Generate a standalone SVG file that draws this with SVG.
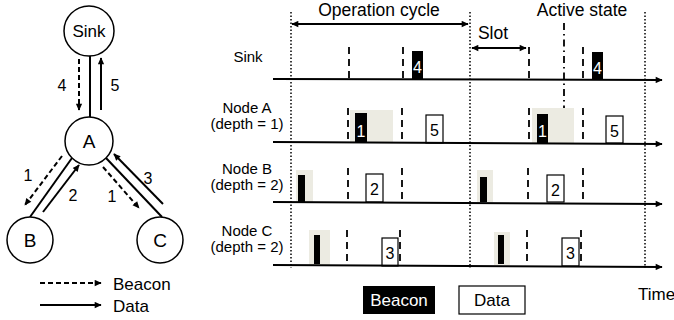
<svg xmlns="http://www.w3.org/2000/svg" width="674" height="320" viewBox="0 0 674 320">
<style>
text{font-family:"Liberation Sans",Arial,sans-serif;fill:#000}
.nd{fill:#fff;stroke:#000;stroke-width:1.5}
.ln{stroke:#000;stroke-width:2;fill:none}
.ds{stroke:#000;stroke-width:2;fill:none;stroke-dasharray:5,3}
.tl{stroke:#000;stroke-width:2;fill:none}
.dot{stroke:#000;stroke-width:1.5;stroke-dasharray:1.5,2;fill:none}
.sb{stroke:#000;stroke-width:1.8;stroke-dasharray:7,5;fill:none}
.bk{fill:#000}
.wb{fill:#fff;stroke:#000;stroke-width:1.2}
.sh{fill:#ecebe2}
.lab{font-size:15px}
.num{font-size:16px}
.wt{fill:#fff;font-size:16px}
</style>
<defs>
<marker id="ah" viewBox="0 0 10 10" refX="9" refY="5" markerWidth="4.5" markerHeight="4" orient="auto-start-reverse" markerUnits="strokeWidth"><path d="M0,0.5 L10,5 L0,9.5 z" fill="#000"/></marker>
<marker id="ah2" viewBox="0 0 10 10" refX="9" refY="5" markerWidth="8" markerHeight="7" orient="auto-start-reverse" markerUnits="userSpaceOnUse"><path d="M0,0.5 L10,5 L0,9.5 z" fill="#000"/></marker>
</defs>
<g id="connectors">
<line class="ln" x1="90" y1="56" x2="90" y2="117"/>
<line class="ln" x1="101" y1="110" x2="101" y2="58" marker-end="url(#ah2)"/>
<line class="ds" x1="79" y1="59" x2="79" y2="110" marker-end="url(#ah2)"/>
<line class="ln" x1="72" y1="158" x2="30" y2="217"/>
<line class="ln" x1="43" y1="212" x2="79" y2="165" marker-end="url(#ah2)"/>
<line class="ds" x1="62" y1="156" x2="25" y2="205" marker-end="url(#ah2)"/>
<line class="ln" x1="106" y1="158" x2="162" y2="217"/>
<line class="ln" x1="163" y1="204" x2="114" y2="154" marker-end="url(#ah2)"/>
<line class="ds" x1="103" y1="167" x2="139" y2="208" marker-end="url(#ah2)"/>
<line class="ds" x1="40" y1="283" x2="101" y2="283" marker-end="url(#ah2)"/>
<line class="ln" x1="40" y1="305" x2="101" y2="305" marker-end="url(#ah2)"/>
</g>
<g id="node-sink"><circle class="nd" cx="89" cy="31" r="25"/><text x="89" y="37" font-size="17" text-anchor="middle">Sink</text></g>
<g id="node-a"><circle class="nd" cx="89" cy="141" r="24"/><text x="89" y="148" font-size="19" text-anchor="middle">A</text></g>
<g id="node-b"><circle class="nd" cx="30" cy="240" r="23"/><text x="30" y="247" font-size="19" text-anchor="middle">B</text></g>
<g id="node-c"><circle class="nd" cx="160" cy="240" r="23"/><text x="160" y="247" font-size="19" text-anchor="middle">C</text></g>
<g id="edge-labels" class="num">
<text x="62" y="91" text-anchor="middle">4</text>
<text x="115" y="91" text-anchor="middle">5</text>
<text x="28" y="181" text-anchor="middle">1</text>
<text x="73" y="201" text-anchor="middle">2</text>
<text x="148" y="184" text-anchor="middle">3</text>
<text x="112" y="202" text-anchor="middle">1</text>
<text x="113" y="290" font-size="17">Beacon</text>
<text x="113" y="312" font-size="17">Data</text>
</g>
<g id="timing">
<line class="dot" x1="291" y1="12" x2="291" y2="268"/>
<line class="dot" x1="470" y1="12" x2="470" y2="268"/>
<line class="dot" x1="645" y1="12" x2="645" y2="268"/>
<line class="ln" x1="292" y1="24" x2="468" y2="24" stroke-width="1.5" marker-start="url(#ah2)" marker-end="url(#ah2)"/>
<text x="379" y="16" font-size="17.5" text-anchor="middle">Operation cycle</text>
<line class="ln" x1="472" y1="48" x2="526" y2="48" stroke-width="1.5" marker-start="url(#ah2)" marker-end="url(#ah2)"/>
<text x="493" y="39" font-size="17.5" text-anchor="middle">Slot</text>
<text x="582" y="16" font-size="17.5" text-anchor="middle">Active state</text>
<line x1="564" y1="23" x2="564" y2="117" stroke="#000" stroke-width="1.8" stroke-dasharray="7,4,1.5,4" marker-end="url(#ah2)"/>
<text class="lab" x="248" y="62" text-anchor="middle">Sink</text>
<text class="lab" x="247" y="113" text-anchor="middle">Node A</text>
<text class="lab" x="247" y="129" text-anchor="middle">(depth = 1)</text>
<text class="lab" x="247" y="174" text-anchor="middle">Node B</text>
<text class="lab" x="247" y="190" text-anchor="middle">(depth = 2)</text>
<text class="lab" x="247" y="236" text-anchor="middle">Node C</text>
<text class="lab" x="247" y="252" text-anchor="middle">(depth = 2)</text>
<rect class="sh" x="350" y="110" width="43" height="33"/>
<rect class="sh" x="532" y="108" width="42" height="35"/>
<rect class="sh" x="296" y="170" width="17" height="32"/>
<rect class="sh" x="477" y="170" width="16" height="32"/>
<rect class="sh" x="309" y="230" width="21" height="35"/>
<rect class="sh" x="494" y="232" width="16" height="33"/>
<line class="sb" x1="349" y1="47" x2="349" y2="78"/>
<line class="sb" x1="403" y1="47" x2="403" y2="78"/>
<line class="sb" x1="529" y1="47" x2="529" y2="78"/>
<line class="sb" x1="583" y1="47" x2="583" y2="78"/>
<line class="sb" x1="348" y1="108" x2="348" y2="141"/>
<line class="sb" x1="402" y1="108" x2="402" y2="141"/>
<line class="sb" x1="529" y1="108" x2="529" y2="141"/>
<line class="sb" x1="583" y1="108" x2="583" y2="141"/>
<line class="sb" x1="348" y1="168" x2="348" y2="200"/>
<line class="sb" x1="402" y1="168" x2="402" y2="200"/>
<line class="sb" x1="528" y1="168" x2="528" y2="200"/>
<line class="sb" x1="583" y1="168" x2="583" y2="200"/>
<line class="sb" x1="347" y1="230" x2="347" y2="264"/>
<line class="sb" x1="400" y1="230" x2="400" y2="264"/>
<line class="sb" x1="527" y1="230" x2="527" y2="264"/>
<line class="sb" x1="581" y1="230" x2="581" y2="264"/>
<rect class="bk" x="412" y="51" width="11" height="28"/>
<text class="wt" x="417.5" y="73" text-anchor="middle">4</text>
<rect class="bk" x="592" y="52" width="11" height="27"/>
<text class="wt" x="597.5" y="74" text-anchor="middle">4</text>
<rect class="bk" x="355" y="113" width="12" height="30"/>
<text class="wt" x="361" y="137" text-anchor="middle">1</text>
<rect class="bk" x="537" y="114" width="11" height="29"/>
<text class="wt" x="542.5" y="137" text-anchor="middle">1</text>
<rect class="wb" x="426" y="115" width="17" height="28"/>
<text class="num" x="434.5" y="136" text-anchor="middle">5</text>
<rect class="wb" x="606" y="116" width="17" height="27"/>
<text class="num" x="614.5" y="137" text-anchor="middle">5</text>
<rect class="bk" x="298" y="175" width="7" height="27"/>
<rect class="bk" x="480" y="177" width="7" height="25"/>
<rect class="wb" x="366" y="174" width="17" height="28"/>
<text class="num" x="374.5" y="195" text-anchor="middle">2</text>
<rect class="wb" x="547" y="175" width="17" height="27"/>
<text class="num" x="555.5" y="196" text-anchor="middle">2</text>
<rect class="bk" x="314" y="235" width="6" height="29"/>
<rect class="bk" x="498" y="235" width="6" height="29"/>
<rect class="wb" x="382" y="238" width="16" height="28"/>
<text class="num" x="390" y="259" text-anchor="middle">3</text>
<rect class="wb" x="562" y="238" width="17" height="28"/>
<text class="num" x="570.5" y="259" text-anchor="middle">3</text>
<line class="tl" x1="273" y1="79" x2="662" y2="80" marker-end="url(#ah2)"/>
<line class="tl" x1="273" y1="142" x2="662" y2="144" marker-end="url(#ah2)"/>
<line class="tl" x1="273" y1="202" x2="662" y2="204" marker-end="url(#ah2)"/>
<line class="tl" x1="273" y1="265" x2="662" y2="267" marker-end="url(#ah2)"/>
<rect class="bk" x="363" y="286" width="72" height="28"/>
<text x="399" y="306" font-size="17" text-anchor="middle" style="fill:#fff">Beacon</text>
<rect class="wb" x="459" y="286" width="66" height="28"/>
<text x="492" y="306" font-size="17" text-anchor="middle">Data</text>
<text x="638" y="300" font-size="17">Time</text>
</g>
</svg>
